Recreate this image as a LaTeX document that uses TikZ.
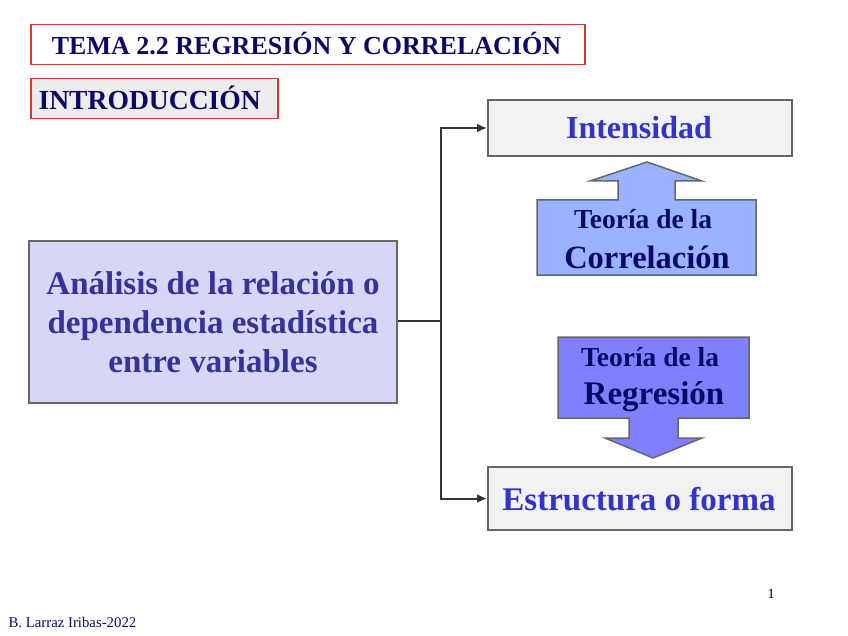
\documentclass[tikz,border=0pt]{standalone}
\usepackage{fontspec}
\setmainfont{Liberation Serif}
\usetikzlibrary{arrows.meta}
\definecolor{navy}{HTML}{0A0A66}
\definecolor{titleblue}{HTML}{3333CC}
\definecolor{mainblue}{HTML}{333399}
\definecolor{redb}{HTML}{DD3333}
\definecolor{grayb}{HTML}{666666}
\definecolor{boxgray}{HTML}{F2F2F2}
\definecolor{lav}{HTML}{D6D6F5}
\definecolor{lightarrow}{HTML}{99B3FF}
\definecolor{darkarrow}{HTML}{8080FF}
\tikzset{
  redbox/.style={draw=redb, line width=1.5pt, inner sep=0pt},
  graybox/.style={draw=grayb, line width=2pt, fill=boxgray, inner sep=0pt},
  bigarrow/.style={draw=grayb, line width=1.5pt},
  conn/.style={draw=black!80, line width=2pt},
  tip/.style={-{Latex[length=10pt,width=9pt]}},
}
\begin{document}
\begin{tikzpicture}[x=1pt,y=-1pt]
\useasboundingbox (0,0) rectangle (848,636);
% title boxes
\node[redbox, fill=white, minimum width=554pt, minimum height=40pt, anchor=north west] (title) at (30,24) {};
\node[text=navy, font=\fontsize{26}{28}\selectfont\bfseries] (titletext) at (306.5,44) {TEMA 2.2 REGRESIÓN Y CORRELACIÓN};
\node[redbox, fill=black!7, minimum width=247pt, minimum height=40pt, anchor=north west] (intro) at (30,78) {};
\node[text=navy, font=\fontsize{27.6}{28}\selectfont\bfseries, anchor=west] (introtext) at (35,98) {INTRODUCCIÓN};
% main box
\node[graybox, fill=lav, minimum width=368pt, minimum height=162pt, anchor=north west] (main) at (28,240) {};
\node[text=mainblue, font=\fontsize{33}{39}\selectfont\bfseries, align=center] (maintext) at (213,322) {Análisis de la relación o\\dependencia estadística\\entre variables};
% right boxes
\node[graybox, minimum width=304pt, minimum height=56pt, anchor=north west] (int) at (487,99) {};
\node[text=titleblue, font=\fontsize{32}{36}\selectfont\bfseries] (inttext) at (639,128) {Intensidad};
\node[graybox, minimum width=304pt, minimum height=63pt, anchor=north west] (est) at (487,466) {};
\node[text=titleblue, font=\fontsize{33}{36}\selectfont\bfseries] (esttext) at (639,499) {Estructura o forma};
% big arrows
\draw[bigarrow, fill=lightarrow] (537,275) -- (537,200) -- (618,200) -- (618,181) -- (590,181) -- (647,162) -- (702,181) -- (675,181) -- (675,200) -- (756,200) -- (756,275) -- cycle;
\node[text=navy, font=\fontsize{27.5}{30}\selectfont\bfseries] (corr1) at (643,219) {Teoría de la};
\node[text=navy, font=\fontsize{32.5}{36}\selectfont\bfseries] (corr2) at (647,257) {Correlación};
\draw[bigarrow, fill=darkarrow] (558,337) -- (749,337) -- (749,418) -- (678,418) -- (678,438) -- (702,438) -- (653,458) -- (605,438) -- (629,438) -- (629,418) -- (558,418) -- cycle;
\node[text=navy, font=\fontsize{27.5}{30}\selectfont\bfseries] (reg1) at (650,357) {Teoría de la};
\node[text=navy, font=\fontsize{33}{36}\selectfont\bfseries] (reg2) at (654,397) {Regresión};
% connectors
\coordinate (split) at (441,321);
\draw[conn] (main.east |- split) -- (split);
\draw[conn, tip] (split) |- (int.west);
\draw[conn, tip] (split) |- (est.west);
% footer
\node[text=black, font=\fontsize{14}{16}\selectfont] (page) at (771,594) {1};
\node[text=navy, font=\fontsize{14.8}{16}\selectfont, anchor=west] (author) at (5,622) {B. Larraz Iribas-2022};
\end{tikzpicture}
\end{document}
